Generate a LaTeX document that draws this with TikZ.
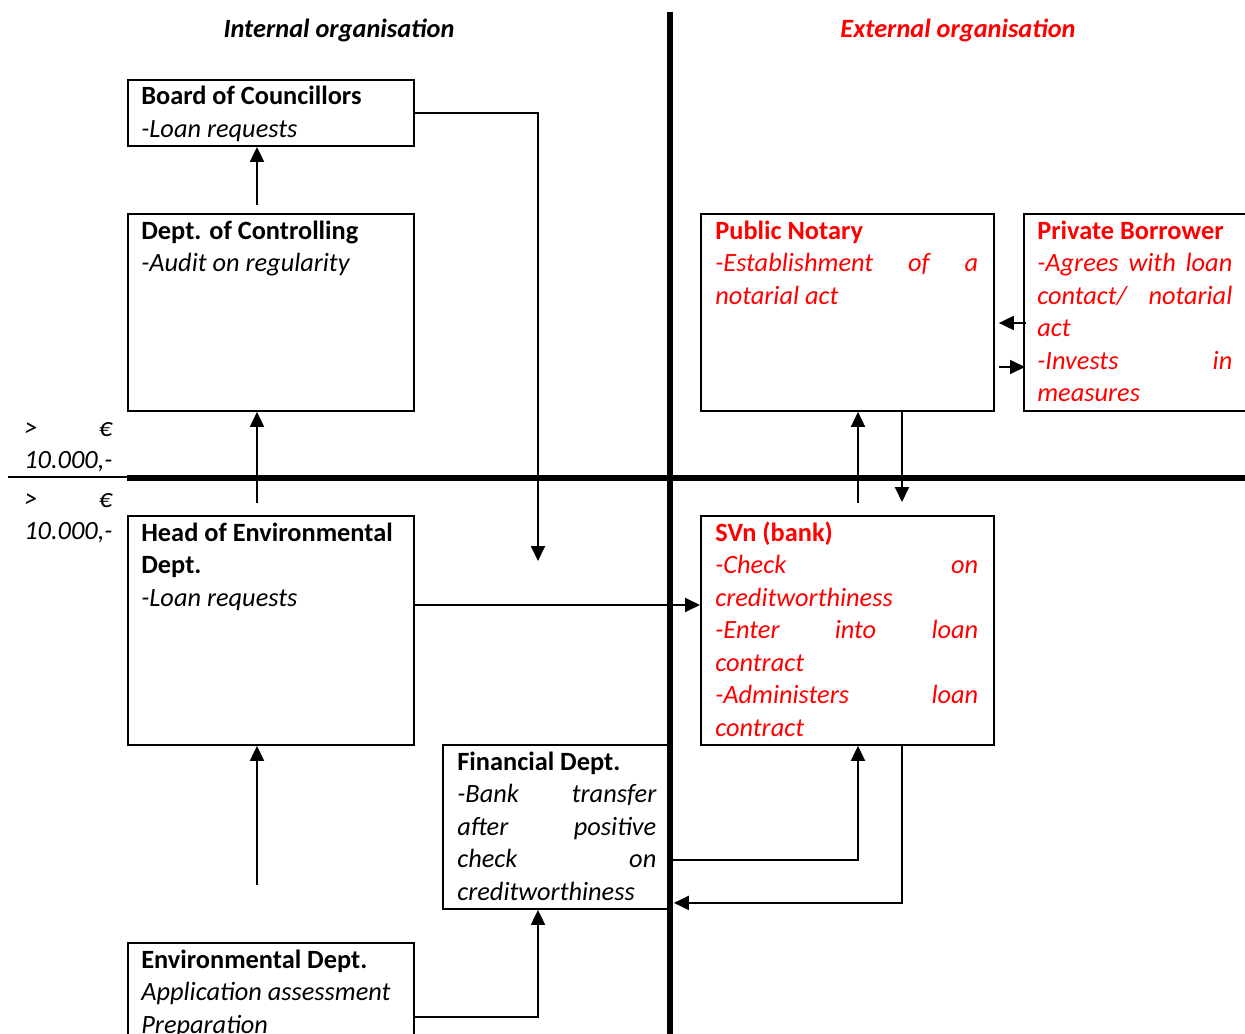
\documentclass[tikz,border=0pt]{standalone}
\usepackage{fontspec}
\setmainfont{Carlito}
\usetikzlibrary{arrows.meta, calc, positioning}

\begin{document}
\begin{tikzpicture}[x=0.02cm, y=-0.02cm,
        box/.style={draw, line width=1.1pt, anchor=north west, inner sep=0pt},
        txt/.style={anchor=base west, inner sep=0pt, align=justify, font=\fontsize{15}{18.5}\selectfont},
        title/.style={font=\fontsize{15}{18}\selectfont\bfseries\itshape},
        arr/.style={line width=1.1pt, -{Triangle[length=0.3cm, width=0.28cm]}}]
        \useasboundingbox (0,0) rectangle (1245,1034);
        % Titles
        \node[title] (inttitle) at (339,30) {Internal organisation};
        \node[title, red] (exttitle) at (958,30) {External organisation};
        % Dividers
        \draw[line width=3.4pt] (670,12) -- (670,1045);
        \draw[line width=3.4pt] (127,478) -- (1255,478);
        \draw[line width=1.1pt] (8,477) -- (127,477);
        % Limits
        \foreach \y in {436,507} {
            \node[txt, text width=1.76cm, font=\fontsize{15}{18.5}\selectfont\itshape] (limit\y) at (24,\y) {> €\linebreak 10.000,-};
        }
        % Boxes
        \node[box, minimum width=5.72cm, minimum height=1.32cm] (board) at (127,79) {};
        \node[box, minimum width=5.72cm, minimum height=3.94cm] (ctrl) at (127,213) {};
        \node[box, minimum width=5.72cm, minimum height=4.58cm] (head) at (127,515) {};
        \node[box, minimum width=4.56cm, minimum height=3.28cm] (fin) at (442,744) {};
        \node[box, minimum width=5.72cm, minimum height=2.40cm] (env) at (127,942) {};
        \node[box, minimum width=5.86cm, minimum height=3.94cm] (notary) at (700,213) {};
        \node[box, minimum width=5.00cm, minimum height=3.94cm] (borrower) at (1023,213) {};
        \node[box, minimum width=5.86cm, minimum height=4.58cm] (svn) at (700,515) {};
        % Texts
        \node[txt, text width=5.16cm] (boardtxt) at ($(board.north west)+(14,26)$)
            {\textbf{Board of Councillors}\\ \textit{-Loan requests}};
        \node[txt, text width=5.16cm] (ctrltxt) at ($(ctrl.north west)+(14,26)$)
            {\textbf{Dept. of Controlling}\\ \textit{-Audit on regularity}};
        \node[txt, text width=5.16cm] (headtxt) at ($(head.north west)+(14,26)$)
            {\textbf{Head of Environmental}\\ \textbf{Dept.}\\ \textit{-Loan requests}};
        \node[txt, text width=3.98cm] (fintxt) at ($(fin.north west)+(15,26)$)
            {\textbf{Financial Dept.}\\ \textit{-Bank transfer\linebreak after positive\linebreak check on\linebreak creditworthiness}};
        \node[txt, text width=5.16cm] (envtxt) at ($(env.north west)+(14,26)$)
            {\textbf{Environmental Dept.}\\ \textit{Application assessment}\\ \textit{Preparation}};
        \node[txt, text width=5.26cm, red] (notarytxt) at ($(notary.north west)+(15,26)$)
            {\textbf{Public Notary}\\ \textit{-Establishment of a\linebreak notarial act}};
        \node[txt, text width=3.90cm, red] (borrowertxt) at ($(borrower.north west)+(14,26)$)
            {\textbf{Private Borrower}\\ \textit{-Agrees with loan\linebreak contact/ notarial\linebreak act}\\ \textit{-Invests in\linebreak measures}};
        \node[txt, text width=5.26cm, red] (svntxt) at ($(svn.north west)+(15,26)$)
            {\textbf{SVn (bank)}\\ \textit{-Check on\linebreak creditworthiness}\\ \textit{-Enter into loan\linebreak contract}\\ \textit{-Administers loan\linebreak contract}};
        % Arrows
        \draw[arr] ($(ctrl.north west)+(130,-8)$) -- ($(board.south west)+(130,0)$);
        \draw[arr] ($(head.north west)+(130,-12)$) -- ($(ctrl.south west)+(130,0)$);
        \coordinate (envup) at ($(head.south west)+(130,139)$);
        \draw[arr] (envup) -- ($(head.south west)+(130,0)$);
        \coordinate (drop) at (538,561);
        \draw[arr] (board.east) -| (drop);
        \coordinate (hout) at ($(head.north east)+(0,90)$);
        \draw[arr] (hout) -- (hout -| svn.west);
        \draw[arr] ($(svn.north west)+(158,-12)$) -- ($(notary.south west)+(158,0)$);
        \draw[arr] ($(notary.south west)+(202,0)$) -- ($(svn.north west)+(202,-13)$);
        \draw[arr] ($(borrower.north west)+(3,110)$) -- ($(notary.north east)+(4,110)$);
        \draw[arr] ($(notary.north east)+(4,154)$) -- ($(borrower.north west)+(2,154)$);
        \draw[arr] ($(fin.north east)+(0,116)$) -| ($(svn.south west)+(158,0)$);
        \draw[arr] ($(svn.south west)+(202,0)$) |- ($(fin.south east)+(2,-7)$);
        \draw[arr] ($(env.north east)+(0,75)$) -| ($(fin.south west)+(96,0)$);
    \end{tikzpicture}
\end{document}
